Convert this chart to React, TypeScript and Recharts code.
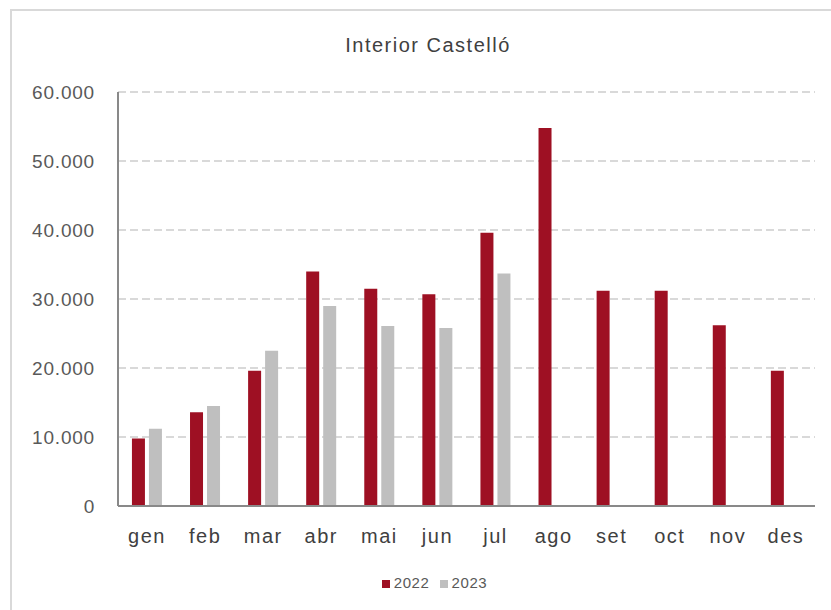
import React from "react";
import { BarChart, Bar, XAxis, YAxis, CartesianGrid, Legend } from "recharts";

const months = ["gen", "feb", "mar", "abr", "mai", "jun", "jul", "ago", "set", "oct", "nov", "des"];
const values2022 = [9800, 13600, 19600, 34000, 31500, 30700, 39600, 54800, 31200, 31200, 26200, 19600];
const values2023 = [11200, 14500, 22500, 29000, 26100, 25800, 33700, null, null, null, null, null];
const yTicks = [0, 10000, 20000, 30000, 40000, 50000, 60000];

const data = months.map((m, i) => ({ month: m, y2022: values2022[i], y2023: values2023[i] }));

const fmt = (v: number) => v.toLocaleString("de-DE");

const font = "'Liberation Sans', Arial, sans-serif";

const App = () => {
  return (
    <div style={{ position: "absolute", left: 0, top: 0, width: 831, height: 610, background: "#fff", fontFamily: font }}>
      <div
        style={{
          position: "absolute",
          left: 10,
          top: 9,
          width: 821,
          height: 601,
          borderTop: "2px solid #d9d9d9",
          borderLeft: "2px solid #d9d9d9",
        }}
      />
      <div
        style={{
          position: "absolute",
          left: 0,
          width: 856,
          top: 34,
          textAlign: "center",
          fontSize: 20,
          letterSpacing: 1.5,
          color: "#404040",
        }}
      >
        Interior Castelló
      </div>
      <BarChart
        width={831}
        height={610}
        data={data}
        margin={{ top: 92, right: 16, left: 8, bottom: 47 }}
        barCategoryGap="24%"
        barGap={4}
        style={{ position: "absolute", left: 0, top: 0 }}
      >
        <CartesianGrid vertical={false} stroke="#d9d9d9" strokeDasharray="8 4" strokeWidth={2} />
        <XAxis
          dataKey="month"
          tickLine={false}
          axisLine={{ stroke: "#898989", strokeWidth: 2 }}
          tick={{ fill: "#404040", fontSize: 20, fontFamily: font, letterSpacing: 1.5 }}
          tickMargin={17}
          height={40}
        />
        <YAxis
          width={110}
          domain={[0, 60000]}
          ticks={yTicks}
          tickFormatter={fmt}
          tickLine={false}
          axisLine={{ stroke: "#898989", strokeWidth: 2 }}
          tick={{ fill: "#595959", fontSize: 19, fontFamily: font, letterSpacing: 0.8 }}
          tickMargin={17}
        />
        <Legend
          verticalAlign="bottom"
          align="center"
          iconType="square"
          iconSize={8}
          wrapperStyle={{ fontSize: 15, fontFamily: font, letterSpacing: 0.6, paddingLeft: 28, bottom: 19 }}
          formatter={(v) => <span style={{ color: "#595959" }}>{v}</span>}
        />
        <Bar dataKey="y2022" name="2022" fill="#9e1023" isAnimationActive={false} />
        <Bar dataKey="y2023" name="2023" fill="#bfbfbf" isAnimationActive={false} />
      </BarChart>
    </div>
  );
};

export default App;
